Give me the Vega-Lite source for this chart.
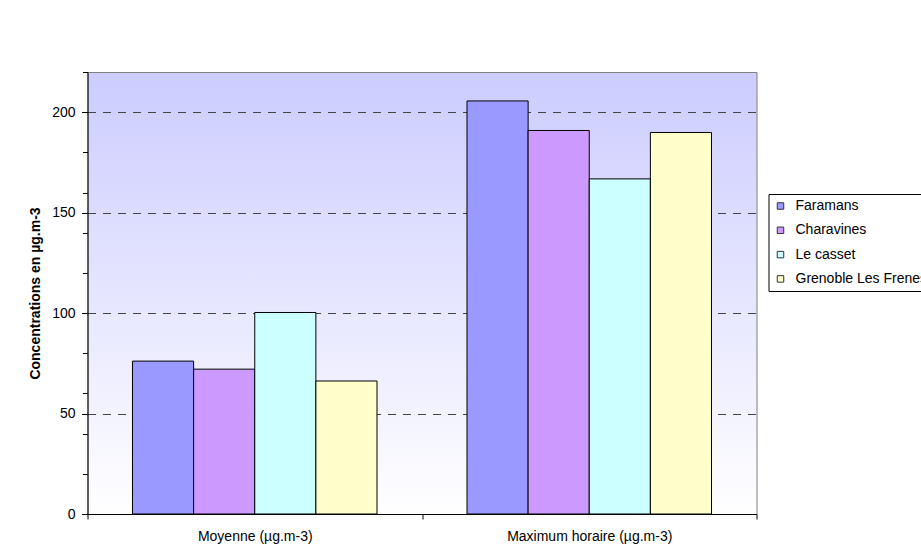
{
  "$schema": "https://vega.github.io/schema/vega-lite/v6.json",
  "autosize": "none",
  "width": 669,
  "height": 442,
  "padding": {"left": 87.5, "top": 72, "right": 164.5, "bottom": 40},
  "background": "#ffffff",
  "data": {
    "values": [
      {"cat": "Moyenne (µg.m-3)", "station": "Faramans", "value": 76.1},
      {"cat": "Moyenne (µg.m-3)", "station": "Charavines", "value": 72.1},
      {"cat": "Moyenne (µg.m-3)", "station": "Le casset", "value": 100.3},
      {"cat": "Moyenne (µg.m-3)", "station": "Grenoble Les Frenes", "value": 66.2},
      {"cat": "Maximum horaire (µg.m-3)", "station": "Faramans", "value": 205.6},
      {"cat": "Maximum horaire (µg.m-3)", "station": "Charavines", "value": 190.9},
      {"cat": "Maximum horaire (µg.m-3)", "station": "Le casset", "value": 166.8},
      {"cat": "Maximum horaire (µg.m-3)", "station": "Grenoble Les Frenes", "value": 189.9}
    ]
  },
  "layer": [
    {
      "mark": {"type": "bar", "stroke": "#000000", "strokeWidth": 1},
      "encoding": {
        "x": {
          "field": "cat", "type": "nominal",
          "sort": ["Moyenne (µg.m-3)", "Maximum horaire (µg.m-3)"],
          "title": null,
          "scale": {"paddingInner": 0, "paddingOuter": 0},
          "axis": {"tickBand": "extent", "labelAngle": 0, "tickSize": 5, "labelPadding": 10.5, "grid": false}
        },
        "xOffset": {
          "field": "station", "type": "nominal",
          "sort": ["Faramans", "Charavines", "Le casset", "Grenoble Les Frenes"],
          "scale": {"paddingInner": 0, "paddingOuter": 0.736}
        },
        "y": {
          "field": "value", "type": "quantitative",
          "title": "Concentrations en µg.m-3",
          "scale": {"domain": [0, 220], "nice": false, "zero": true},
          "axis": {
            "orient": "left",
            "values": [0, 50, 100, 150, 200],
            "grid": true, "gridDash": [8, 7], "gridColor": "#444444", "gridWidth": 1,
            "tickSize": 6, "labelPadding": 6.5,
            "titleFontWeight": "bold", "titleFontSize": 14, "titlePadding": 9
          }
        },
        "color": {
          "field": "station", "type": "nominal",
          "sort": ["Faramans", "Charavines", "Le casset", "Grenoble Les Frenes"],
          "scale": {
            "domain": ["Faramans", "Charavines", "Le casset", "Grenoble Les Frenes"],
            "range": ["#9999ff", "#cc99ff", "#ccffff", "#ffffcc"]
          },
          "legend": {
            "title": null,
            "orient": "none",
            "legendX": 681,
            "legendY": 122,
            "symbolType": "square",
            "symbolSize": 42,
            "symbolStrokeColor": "#333333",
            "symbolStrokeWidth": 1,
            "symbolOpacity": 1,
            "labelFontSize": 14,
            "labelColor": "#000000",
            "labelOffset": 8,
            "rowPadding": 10.3,
            "padding": 5,
            "strokeColor": "#000000",
            "fillColor": "#ffffff",
            "labelLimit": 300
          }
        }
      }
    },
    {
      "mark": {"type": "rule", "opacity": 0},
      "encoding": {
        "y": {
          "field": "value", "type": "quantitative",
          "scale": {"domain": [0, 220], "nice": false, "zero": true},
          "axis": {
            "orient": "left",
            "values": [0, 20, 40, 60, 80, 100, 120, 140, 160, 180, 200, 220],
            "labels": false, "domain": false, "grid": false, "title": null, "tickSize": 5
          }
        }
      }
    }
  ],
  "resolve": {"axis": {"y": "independent"}},
  "config": {
    "font": "Liberation Sans",
    "view": {
      "stroke": "#808080",
      "strokeWidth": 1,
      "fill": {
        "gradient": "linear", "x1": 0, "y1": 0, "x2": 0, "y2": 1,
        "stops": [{"offset": 0, "color": "#ccccff"}, {"offset": 1, "color": "#ffffff"}]
      }
    },
    "axis": {
      "labelFontSize": 14,
      "labelColor": "#000000",
      "domainColor": "#000000",
      "tickColor": "#000000",
      "titleColor": "#000000",
      "labelFont": "Liberation Sans",
      "titleFont": "Liberation Sans"
    },
    "legend": {"labelFont": "Liberation Sans"}
  }
}
